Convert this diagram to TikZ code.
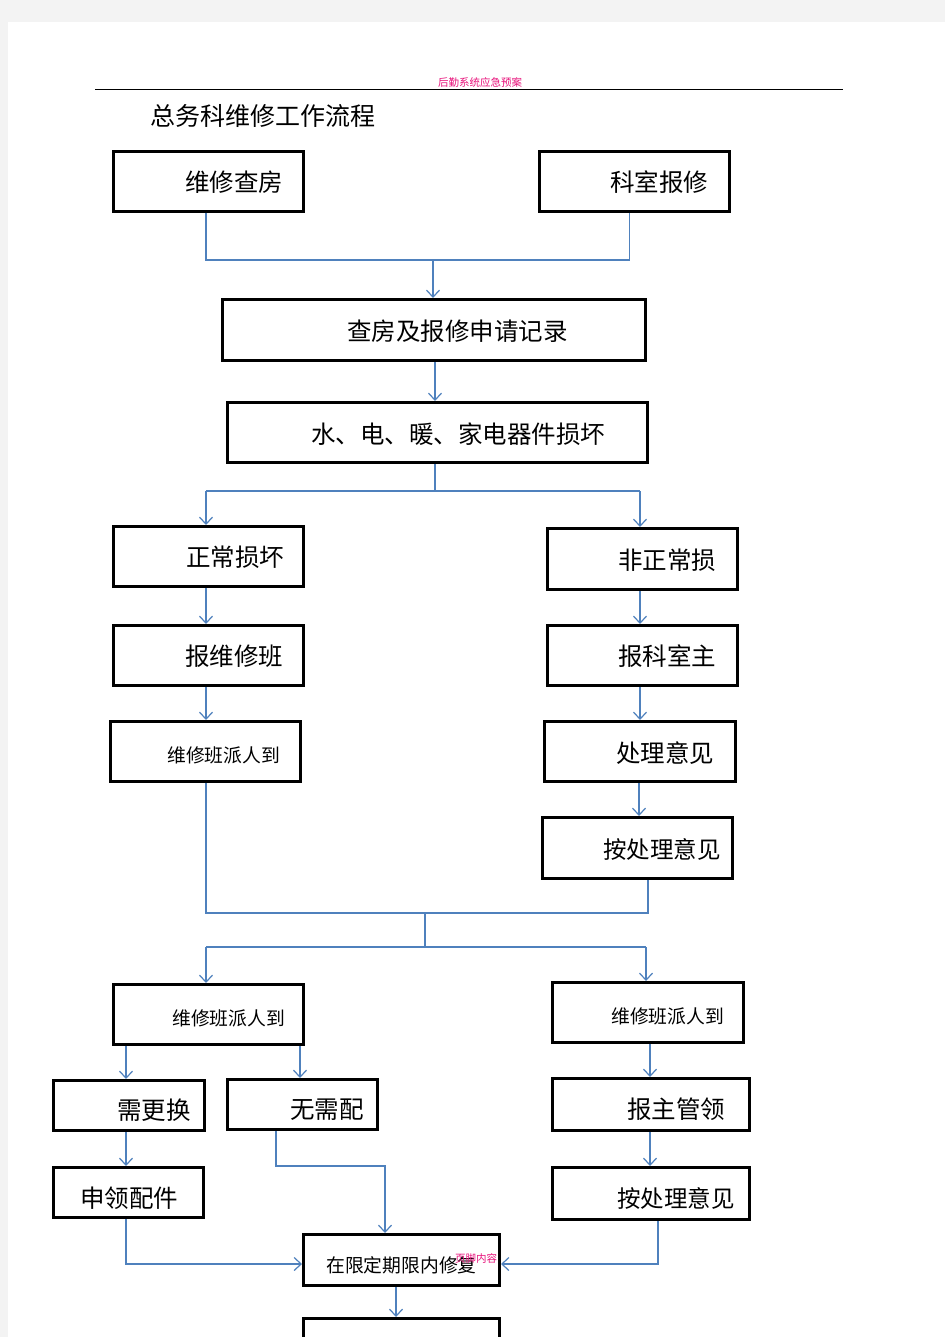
\documentclass[tikz,border=0pt]{standalone}
\usepackage{fontspec}
\newfontfamily\cjk{Noto Sans CJK SC}
\usetikzlibrary{arrows.meta}
\definecolor{connc}{HTML}{4F81BD}
\definecolor{pinkred}{HTML}{E8107A}
\definecolor{pagegray}{HTML}{F3F3F3}
\tikzset{
 box/.style={draw=black, line width=3pt, rectangle, inner sep=0pt},
 big/.style={font=\cjk\fontsize{24.5}{24.5}\selectfont, inner sep=0pt, anchor=west},
 small/.style={font=\cjk\fontsize{18.8}{18.8}\selectfont, inner sep=0pt, anchor=west},
 tiny/.style={font=\cjk\fontsize{10.5}{10.5}\selectfont, inner sep=0pt, text=pinkred},
 cline/.style={draw=connc, line width=1.2pt},
 arr/.style={cline, -{Straight Barb[length=7pt,width=13pt]}},
}
\begin{document}
\begin{tikzpicture}[x=1pt,y=-1pt]
\useasboundingbox (0,0) rectangle (945,1337);
\clip (0,0) rectangle (945,1337);
\fill[pagegray] (0,0) rectangle (945,1337);
\fill[white] (8,22) rectangle (945,1337);
% header
\node[tiny] (hdr) at (480,83) {后勤系统应急预案};
\draw[line width=1pt] (95,90) coordinate (hl) -- (843,90) coordinate (hr);
\node[font=\cjk\fontsize{25}{25}\selectfont, inner sep=0pt, anchor=west] (title) at (150,116) {总务科维修工作流程};
% boxes
\node[box, minimum width=190pt, minimum height=60pt] (b1) at (208.5,181.5) {};
\node[box, minimum width=190pt, minimum height=60pt] (b2) at (634.5,181.5) {};
\node[box, minimum width=423pt, minimum height=61pt] (b3) at (434,330) {};
\node[box, minimum width=420pt, minimum height=60pt] (b4) at (437.5,432.5) {};
\node[box, minimum width=190pt, minimum height=60pt] (b5) at (208.5,556.5) {};
\node[box, minimum width=190pt, minimum height=61pt] (b6) at (642.5,559) {};
\node[box, minimum width=190pt, minimum height=60pt] (b7) at (208.5,655.5) {};
\node[box, minimum width=190pt, minimum height=60pt] (b8) at (642.5,655.5) {};
\node[box, minimum width=190pt, minimum height=60pt] (b9) at (205.5,751.5) {};
\node[box, minimum width=191pt, minimum height=60pt] (b10) at (640,751.5) {};
\node[box, minimum width=190pt, minimum height=61pt] (b11) at (637.5,848) {};
\node[box, minimum width=190pt, minimum height=60pt] (b12) at (208.5,1014.5) {};
\node[box, minimum width=191pt, minimum height=60pt] (b13) at (648,1012.5) {};
\node[box, minimum width=151pt, minimum height=50pt] (b14) at (129,1105.5) {};
\node[box, minimum width=150pt, minimum height=50pt] (b15) at (302.5,1104.5) {};
\node[box, minimum width=150pt, minimum height=50pt] (b16) at (128.5,1192.5) {};
\node[box, minimum width=197pt, minimum height=52pt] (b17) at (651,1104.5) {};
\node[box, minimum width=197pt, minimum height=52pt] (b18) at (651,1193.5) {};
\node[box, minimum width=196pt, minimum height=51pt] (b19) at (401.5,1260) {};
\node[box, minimum width=196pt, minimum height=60pt] (b20) at (401.5,1348.5) {};
% texts
\node[big] (t1) at (185,182) {维修查房};
\node[big] (t2) at (610,182) {科室报修};
\node[big] (t3) at (347,331) {查房及报修申请记录};
\node[big] (t4) at (311,434) {水、电、暖、家电器件损坏};
\node[big] (t5) at (186,557) {正常损坏};
\node[big] (t6) at (618,560) {非正常损};
\node[big] (t7) at (185,656) {报维修班};
\node[big] (t8) at (618,656) {报科室主};
\node[small] (t9) at (167,755) {维修班派人到};
\node[big] (t10) at (616,753) {处理意见};
\node[big, font=\cjk\fontsize{23.5}{23.5}\selectfont] (t11) at (603,849) {按处理意见};
\node[small] (t12) at (172,1018) {维修班派人到};
\node[small] (t13) at (611,1016) {维修班派人到};
\node[big] (t14) at (117,1110) {需更换};
\node[big] (t15) at (290,1110) {无需配};
\node[big] (t16) at (80,1198) {申领配件};
\node[big] (t17) at (627,1109) {报主管领};
\node[big, font=\cjk\fontsize{23.5}{23.5}\selectfont] (t18) at (617,1198) {按处理意见};
\node[small] (t19) at (326,1265) {在限定期限内修复};
\node[tiny, anchor=west] (foot) at (455,1258) {页脚内容};
% column coordinates
\coordinate (cl) at (206,0);
\coordinate (cr) at (640,0);
\coordinate (cr2) at (639,0);
\coordinate (c126) at (126,0);
\coordinate (c300) at (300,0);
\coordinate (c650) at (650,0);
\coordinate (c396) at (396,0);
\coordinate (c435) at (435,0);
% connectors
\coordinate (j1) at (433,260);
\draw[cline] (b1.south -| cl) |- (j1) -| ([xshift=-5pt]b2.south);
\draw[arr] (j1) -- (j1 |- b3.north);
\draw[arr] (b3.south -| c435) -- (b4.north -| c435);
\coordinate (j2) at (435,491);
\coordinate (j2l) at (206,491);
\coordinate (j2r) at (640,491);
\draw[cline] (b4.south -| j2) -- (j2);
\draw[cline] (j2l) -- (j2r);
\draw[arr] (j2l) -- (j2l |- b5.north);
\draw[arr] (j2r) -- (j2r |- b6.north);
\draw[arr] (b5.south -| cl) -- (b7.north -| cl);
\draw[arr] (b6.south -| cr) -- (b8.north -| cr);
\draw[arr] (b7.south -| cl) -- (b9.north -| cl);
\draw[arr] (b8.south -| cr) -- (b10.north -| cr);
\draw[arr] (b10.south -| cr2) -- (b11.north -| cr2);
\coordinate (j3) at (425,913);
\coordinate (j3l) at (206,913);
\coordinate (j3r) at (648,913);
\draw[cline] (b9.south -| cl) -- (j3l) -- (j3r) -- (b11.south -| j3r);
\coordinate (j4) at (425,947);
\coordinate (j4l) at (206,947);
\coordinate (j4r) at (646,947);
\draw[cline] (j3) -- (j4);
\draw[cline] (j4l) -- (j4r);
\draw[arr] (j4l) -- (j4l |- b12.north);
\draw[arr] (j4r) -- (j4r |- b13.north);
\draw[arr] (b12.south -| c126) -- (b14.north -| c126);
\draw[arr] (b12.south -| c300) -- (b15.north -| c300);
\draw[arr] (b14.south -| c126) -- (b16.north -| c126);
\draw[arr] (b13.south -| c650) -- (b17.north -| c650);
\draw[arr] (b17.south -| c650) -- (b18.north -| c650);
\coordinate (j5) at (276,1166);
\coordinate (j5r) at (385,1166);
\draw[arr] (b15.south -| j5) -- (j5) -- (j5r) -- (b19.north -| j5r);
\coordinate (j6) at (126,1264);
\draw[arr] (b16.south -| j6) -- (j6) -- (j6 -| b19.west);
\coordinate (j7) at (658,1264);
\draw[arr] (b18.south -| j7) -- (j7) -- (j7 -| b19.east);
\draw[arr] (b19.south -| c396) -- (b20.north -| c396);
\end{tikzpicture}
\end{document}
